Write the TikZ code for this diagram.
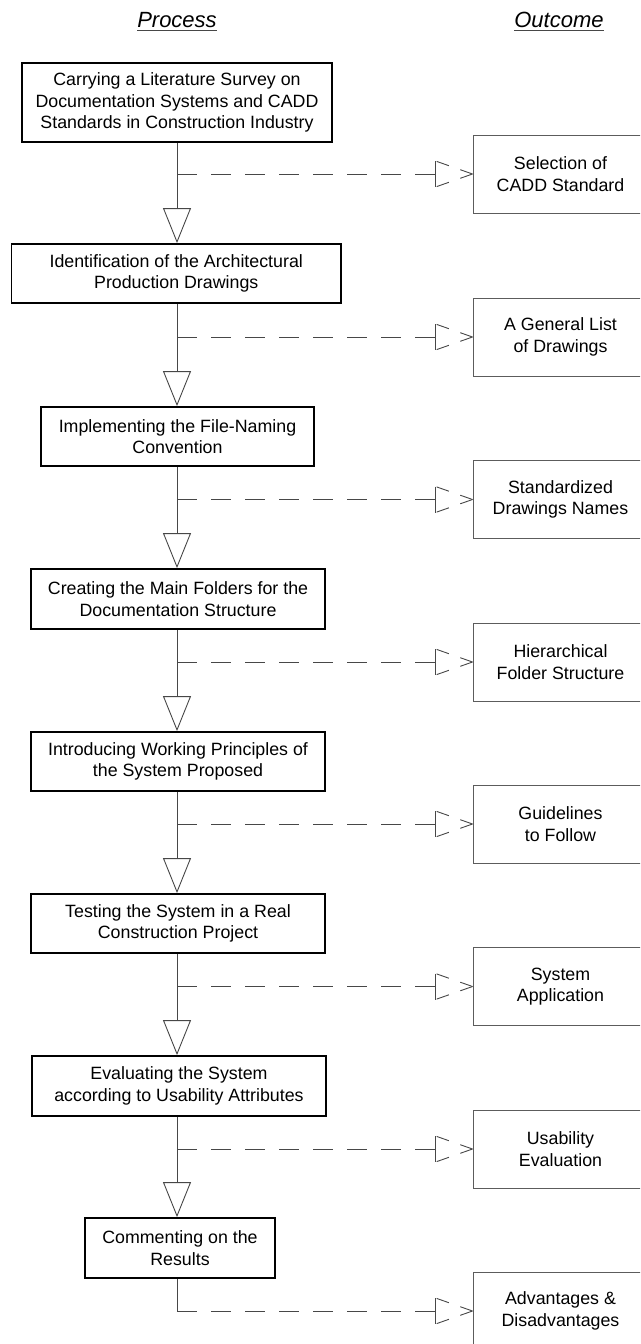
\documentclass[tikz,border=0pt]{standalone}
\usepackage{fontspec}
\setmainfont{Liberation Sans}
\usetikzlibrary{arrows.meta,calc}
\definecolor{connc}{HTML}{474747}
\definecolor{oboxc}{HTML}{5C5C5C}
\begin{document}
\begin{tikzpicture}[x=1pt,y=-1pt,
  pbox/.style={draw=black,line width=1.8pt,align=center,inner sep=0pt,
    font=\fontsize{17.8}{21.7}\selectfont},
  obox/.style={draw=oboxc,line width=1pt,align=center,minimum width=175pt,
    minimum height=78pt,inner sep=0pt,font=\fontsize{17.8}{21.7}\selectfont},
  flow/.style={draw=connc,line width=0.9pt,-{Triangle[open,length=35pt,width=28pt]}},
  solidline/.style={draw=connc,line width=0.9pt},
  dashline/.style={draw=connc,line width=0.9pt,dash pattern=on 20pt off 14pt},
  headdash/.style={draw=connc,line width=0.9pt,dash pattern=on 13pt off 12pt},
  head/.style={font=\fontsize{22}{26}\selectfont\itshape,inner sep=0pt,anchor=base},
  uline/.style={draw=connc,line width=1pt}
]
\useasboundingbox (0,0) rectangle (640,1344);
\clip (0,0) rectangle (640,1344);

% headers
\node[head] (hp) at (177,27) {Process};
\node[head] (ho) at (559,27) {Outcome};
\draw[uline] ($(hp.base west)+(0,3.5)$) -- ($(hp.base east)+(0,3.5)$);
\draw[uline] ($(ho.base west)+(0,3.5)$) -- ($(ho.base east)+(0,3.5)$);

\coordinate (spine) at (177,0);

% process boxes
\node[pbox,minimum width=310pt,minimum height=79pt] (p1) at (177,102.5)
  {Carrying a Literature Survey on\\Documentation Systems and CADD\\Standards in Construction Industry};
\node[pbox,minimum width=329.5pt,minimum height=59pt] (p2) at (176.25,273.5)
  {Identification of the Architectural\\Production Drawings};
\node[pbox,minimum width=273pt,minimum height=59pt] (p3) at (177.5,436.5)
  {Implementing the File-Naming\\Convention};
\node[pbox,minimum width=294pt,minimum height=60pt] (p4) at (178,599)
  {Creating the Main Folders for the\\Documentation Structure};
\node[pbox,minimum width=294pt,minimum height=59pt] (p5) at (178,761.5)
  {Introducing Working Principles of\\the System Proposed};
\node[pbox,minimum width=294pt,minimum height=59pt] (p6) at (178,923.5)
  {Testing the System in a Real\\Construction Project};
\node[pbox,minimum width=294pt,minimum height=60pt] (p7) at (179,1086)
  {Evaluating the System\\according to Usability Attributes};
\node[pbox,minimum width=190pt,minimum height=60pt] (p8) at (180,1248)
  {Commenting on the\\Results};

% outcome boxes
\node[obox] (o1) at (560.5,174) {Selection of\\CADD Standard};
\node[obox] (o2) at (560.5,337) {A General List\\of Drawings};
\node[obox] (o3) at (560.5,499.5) {Standardized\\Drawings Names};
\node[obox] (o4) at (560.5,662) {Hierarchical\\Folder Structure};
\node[obox] (o5) at (560.5,824) {Guidelines\\to Follow};
\node[obox] (o6) at (560.5,986.5) {System\\Application};
\node[obox] (o7) at (560.5,1149) {Usability\\Evaluation};
\node[obox] (o8) at (560.5,1311) {Advantages \&\\Disadvantages};

% process flow
\foreach \a/\b in {1/2,2/3,3/4,4/5,5/6,6/7,7/8}{
  \draw[flow] (p\a.south -| spine) -- (p\b.north -| spine);
}
\coordinate (j8) at (spine |- o8.west);
\draw[solidline] (p8.south -| spine) -- (j8);

% outcome connectors
\foreach \k in {1,...,8}{
  \coordinate (j\k) at (spine |- o\k.west);
  \coordinate (a\k) at ($(o\k.west)+(-37,0)$);
  \draw[dashline] (j\k) -- (a\k);
  \draw[solidline] ($(a\k)+(0,-13)$) -- ($(a\k)+(0,13)$);
  \draw[headdash] (o\k.west) -- ($(a\k)+(0,-13)$);
  \draw[headdash] (o\k.west) -- ($(a\k)+(0,13)$);
}
\end{tikzpicture}
\end{document}
